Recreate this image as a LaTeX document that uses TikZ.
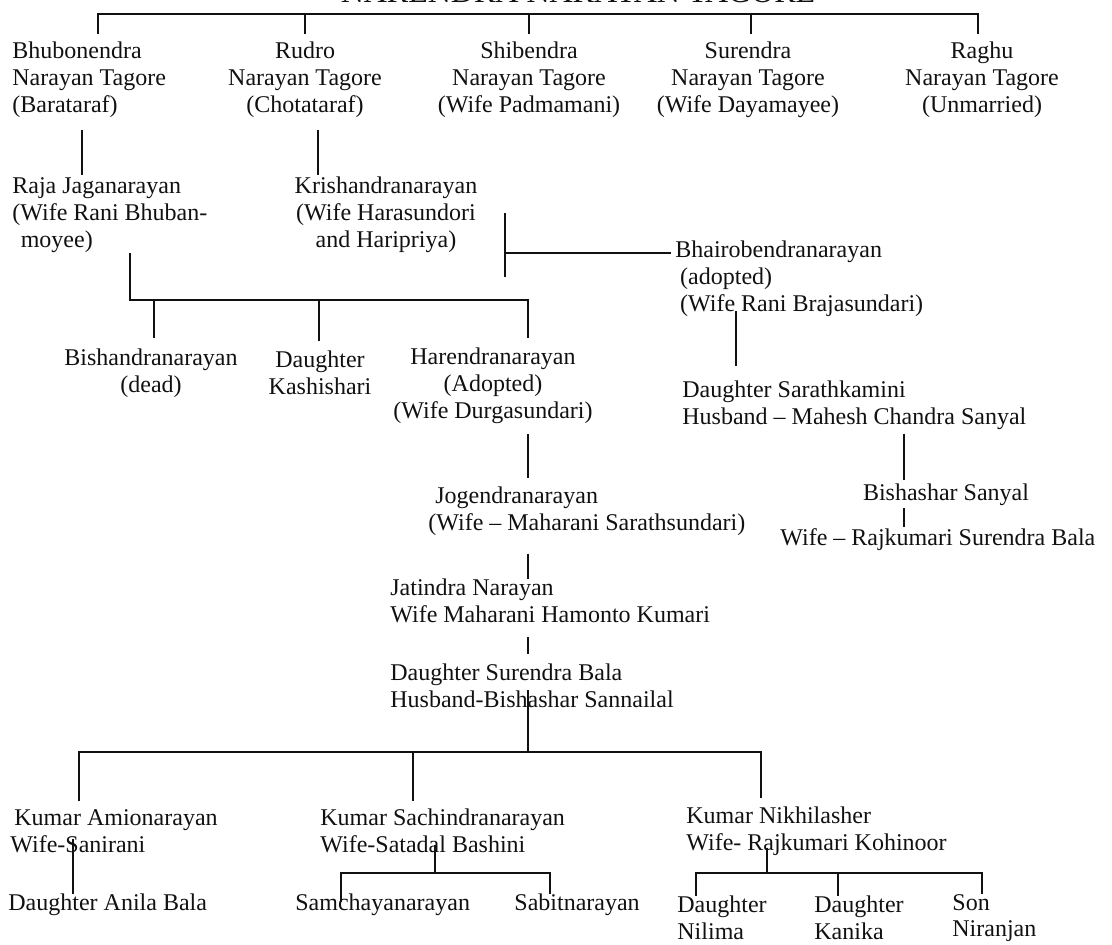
\documentclass[tikz,border=0pt]{standalone}
\usepackage{fontspec}
\setmainfont{Liberation Serif}
\usepackage{xcolor}
\definecolor{InkBlack}{HTML}{111111}
\tikzset{
    person/.style={
        font=\fontsize{12pt}{13.4pt}\selectfont,
        text=InkBlack,
        inner sep=0pt,
        align=#1
    },
    person/.default=center,
    link/.style={
        draw=InkBlack,
        line width=0.8pt
    }
}

\begin{document}
\begin{tikzpicture}[x=0.5pt, y=-0.5pt]
        \clip (0,0) rectangle (1112,944);

        % Title (cut off by the page edge)
        \node[person, font=\fontsize{16pt}{18pt}\selectfont, anchor=base] (title) at (578,2) {NARENDRA NARAYAN TAGORE};

        % Sons
        \node[person=left, anchor=west] (b1) at (12,80) {Bhubonendra\\Narayan Tagore\\(Barataraf)};
        \node[person] (b2) at (305,80) {Rudro\\Narayan Tagore\\(Chotataraf)};
        \node[person] (b3) at (529,80) {Shibendra\\Narayan Tagore\\(Wife Padmamani)};
        \node[person] (b4) at (748,80) {Surendra\\Narayan Tagore\\(Wife Dayamayee)};
        \node[person] (b5) at (982,80) {Raghu\\Narayan Tagore\\(Unmarried)};

        \coordinate (t1) at (98,14);
        \coordinate (t2) at (305,14);
        \coordinate (t3) at (529,14);
        \coordinate (t4) at (751,14);
        \coordinate (t5) at (978,14);
        \draw[link, shorten <=4pt, shorten >=4pt] (b1.north -| t1) -- (t1) -- (t5) -- (b5.north -| t5);
        \draw[link, shorten >=4pt] (t2) -- (b2.north -| t2);
        \draw[link, shorten >=4pt] (t3) -- (b3.north -| t3);
        \draw[link, shorten >=4pt] (t4) -- (b4.north -| t4);

        % Grandsons
        \node[person=left, anchor=west] (raja) at (12,215) {Raja Jaganarayan\\(Wife Rani Bhuban-\\\hspace*{0.35em}moyee)};
        \node[person] (krish) at (386,215) {Krishandranarayan\\(Wife Harasundori\\and Haripriya)};
        \node[person=left, anchor=west] (bhai) at (675,279) {Bhairobendranarayan\\\hspace*{0.2em}(adopted)\\\hspace*{0.2em}(Wife Rani Brajasundari)};

        \coordinate (bb) at (82,0);
        \coordinate (rb) at (318,0);
        \draw[link, shorten <=6pt, shorten >=1pt] (b1.south -| bb) -- (raja.north -| bb);
        \draw[link, shorten <=6pt, shorten >=1pt] (b2.south -| rb) -- (krish.north -| rb);

        % Adoption bracket
        \coordinate (kbt) at (505,213);
        \coordinate (kbb) at (505,277);
        \coordinate (kbm) at (505,253);
        \draw[link] (kbt) -- (kbb);
        \draw[link, shorten >=2pt] (kbm) -- (bhai.west |- kbm);

        % Children of Raja Jaganarayan
        \node[person] (bish) at (151,373) {Bishandranarayan\\(dead)};
        \node[person] (kashi) at (320,373) {Daughter\\Kashishari};
        \node[person] (haren) at (493,386) {Harendranarayan\\(Adopted)\\(Wife Durgasundari)};

        \coordinate (rj) at (130,300);
        \coordinate (c1) at (154,300);
        \coordinate (c2) at (319,300);
        \coordinate (c3) at (528,300);
        \draw[link, shorten >=5pt] (raja.south -| rj) -- (rj) -- (c3) -- (haren.north -| c3);
        \draw[link, shorten >=5pt] (c1) -- (bish.north -| c1);
        \draw[link, shorten >=5pt] (c2) -- (kashi.north -| c2);

        % Line of Bhairobendranarayan
        \node[person=left, anchor=west] (sarath) at (682,405) {Daughter Sarathkamini\\Husband -- Mahesh Chandra Sanyal};
        \node[person] (bishashar) at (946,495) {Bishashar Sanyal};
        \node[person=left, anchor=west] (wraj) at (780,540) {Wife -- Rajkumari Surendra Bala};

        \coordinate (bd) at (736,0);
        \coordinate (sd) at (904,0);
        \draw[link, shorten <=-3pt, shorten >=7pt] (bhai.south -| bd) -- (sarath.north -| bd);
        \draw[link, shorten <=2pt, shorten >=2pt] (sarath.south -| sd) -- (bishashar.north -| sd);
        \draw[link, shorten <=1pt, shorten >=1pt] (bishashar.south -| sd) -- (wraj.north -| sd);

        % Line of Harendranarayan
        \node[person=left, anchor=west] (jog) at (428,511) {\hspace*{3.5pt}Jogendranarayan\\(Wife -- Maharani Sarathsundari)};
        \node[person=left, anchor=west] (jat) at (390,601) {Jatindra Narayan\\Wife Maharani Hamonto Kumari};
        \node[person=left, anchor=west] (dsb) at (390,686) {Daughter Surendra Bala\\Husband-Bishashar Sannailal};

        \coordinate (hd) at (528,0);
        \draw[link, shorten <=5pt, shorten >=4pt] (haren.south -| hd) -- (jog.north -| hd);
        \draw[link, shorten <=9pt] (jog.south -| hd) -- (jat.north -| hd);
        \draw[link, shorten <=7pt, shorten >=5pt] (jat.south -| hd) -- (dsb.north -| hd);

        % Grandchildren of Jatindra Narayan
        \node[person=left, anchor=west] (k1) at (10,831) {\hspace*{2pt}Kumar Amionarayan\\Wife-Sanirani};
        \node[person=left, anchor=west] (k2) at (320,831) {Kumar Sachindranarayan\\Wife-Satadal Bashini};
        \node[person=left, anchor=west] (k3) at (686,831) {Kumar Nikhilasher\\Wife- Rajkumari Kohinoor};

        \coordinate (kc) at (528,752);
        \coordinate (k1c) at (79,752);
        \coordinate (k2c) at (413,752);
        \coordinate (k3c) at (761,752);
        \draw[link, shorten <=-9pt] (dsb.south -| kc) -- (kc);
        \draw[link, shorten <=4pt, shorten >=4pt] (k1.north -| k1c) -- (k1c) -- (k3c) -- (k3.north -| k3c);
        \draw[link, shorten >=4pt] (k2c) -- (k2.north -| k2c);

        % Last generation
        \node[person=left, anchor=west] (anila) at (8,905) {Daughter Anila Bala};
        \node[person=left, anchor=west] (sam) at (295,905) {Samchayanarayan};
        \node[person=left, anchor=west] (sab) at (514,905) {Sabitnarayan};
        \node[person=left, anchor=west] (nil) at (677,918) {Daughter\\Nilima};
        \node[person=left, anchor=west] (kan) at (814,918) {Daughter\\Kanika};
        \node[person=left, anchor=west] (nir) at (952,918) {Son\\Niranjan};

        \coordinate (ad) at (73,0);
        \draw[link, shorten <=-7pt] (k1.south -| ad) -- (anila.north -| ad);

        \coordinate (k2b) at (435,873);
        \coordinate (s1) at (341,873);
        \coordinate (s2) at (550,873);
        \draw[link, shorten <=-4pt] (k2.south -| k2b) -- (k2b);
        \draw[link, shorten <=-4pt] (sam.north -| s1) -- (s1) -- (s2) -- (sab.north -| s2);

        \coordinate (k3b) at (767,873);
        \coordinate (n1) at (696,873);
        \coordinate (n2) at (838,873);
        \coordinate (n3) at (982,873);
        \draw[link, shorten <=-4pt] (k3.south -| k3b) -- (k3b);
        \draw[link] (nil.north -| n1) -- (n1) -- (n3) -- (nir.north -| n3);
        \draw[link] (n2) -- (kan.north -| n2);
    \end{tikzpicture}
\end{document}
